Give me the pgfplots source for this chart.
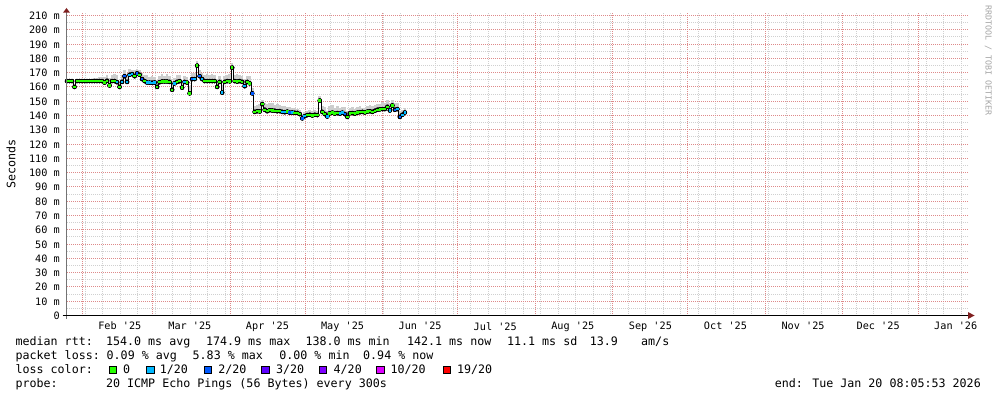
\documentclass[border=0pt]{standalone}
\usepackage{pgfplots}
\pgfplotsset{compat=1.18}
\usepackage{pgfplotstable}
\usepackage{fontspec}
\newfontfamily\rrd{DejaVu Sans Mono}
\newcommand\legf{\rrd\fontsize{11.66}{14}\selectfont}
\newcommand\axf{\rrd\fontsize{10.2}{12}\selectfont}
\newcommand\wmf{\rrd\fontsize{8.3}{10}\selectfont}
\definecolor{lossg}{HTML}{26FF00}
\definecolor{lossc}{HTML}{00B8FF}
\definecolor{lossb}{HTML}{0059FF}
\definecolor{loss3}{HTML}{5E00FF}
\definecolor{loss4}{HTML}{7E00FF}
\definecolor{loss10}{HTML}{DD00FF}
\definecolor{loss19}{HTML}{FF0000}
\definecolor{gridmin}{HTML}{D0D0D0}
\definecolor{gridmaj}{HTML}{DE8A8A}
\definecolor{arrowred}{HTML}{802020}
\definecolor{smokeA}{HTML}{CDCDCD}
\definecolor{smokeB}{HTML}{A4A4A4}

\pgfplotstableread{
d med up c
0 164.1 0 g
1 164.1 0 g
2 164.1 0 g
3 160.0 0 g
4 164.1 0 g
5 164.1 0 g
6 164.1 0 g
7 164.1 0 g
8 164.1 0 g
9 164.1 0 g
10 164.1 1 g
11 164.1 2 g
12 164.1 2 g
13 164.1 3 g
14 164.1 3 g
15 163.0 4 g
16 164.3 4 g
17 161.0 5 g
18 164.1 4 g
19 164.1 5 g
20 163.3 5 c
21 160.0 4 g
22 163.5 5 c
23 167.5 4 b
24 163.5 5 c
25 168.5 4 c
26 169.0 3 c
27 167.5 4 g
28 169.5 3 b
29 168.5 3 g
30 165.5 4 b
31 164.1 4 g
32 163.1 5 c
33 163.0 4 c
34 162.9 5 c
35 163.1 4 c
36 160.0 5 g
37 163.3 4 g
38 163.8 5 g
39 163.8 4 g
40 163.8 5 g
41 163.5 4 g
42 158.0 5 g
43 162.5 4 c
44 163.5 5 g
45 164.0 4 g
46 159.5 5 g
47 163.5 4 c
48 163.0 4 g
49 155.5 5 g
50 165.5 4 b
51 165.5 4 c
52 174.9 3 g
53 167.5 4 b
54 165.5 4 c
55 164.1 4 g
56 164.1 5 g
57 164.1 4 g
58 164.1 5 g
59 164.1 4 g
60 160.0 5 g
61 163.5 4 g
62 156.0 5 c
63 163.5 4 g
64 164.1 4 g
65 163.9 5 g
66 173.5 3 g
67 164.1 4 g
68 163.7 5 g
69 164.1 4 g
70 163.5 4 g
71 160.5 5 c
72 163.5 4 g
73 162.5 5 g
74 155.5 4 b
75 142.5 4 g
76 143.0 4 g
77 142.8 5 g
78 148.0 3 g
79 144.0 5 g
80 143.0 5 g
81 143.7 5 g
82 143.5 5 g
83 143.3 4 g
84 143.0 5 g
85 143.1 4 g
86 142.5 4 c
87 142.3 4 c
88 142.7 3 g
89 142.0 4 b
90 142.1 3 c
91 141.9 3 g
92 141.8 3 g
93 141.0 3 g
94 138.0 3 b
95 139.5 3 c
96 140.3 3 g
97 140.5 3 g
98 140.0 3 g
99 140.5 3 g
100 140.3 3 g
101 150.5 3 g
102 142.5 4 g
103 141.0 5 g
104 139.3 4 c
105 141.5 5 g
106 142.0 5 g
107 141.3 4 g
108 141.7 5 g
109 141.3 4 c
110 142.0 4 c
111 141.0 5 b
112 139.0 4 g
113 141.5 4 g
114 141.7 4 g
115 141.3 3 g
116 142.0 4 g
117 142.3 4 g
118 142.5 3 g
119 142.1 3 g
120 142.7 4 g
121 143.0 4 g
122 142.5 4 g
123 143.3 4 g
124 144.0 4 g
125 144.3 4 g
126 144.5 5 g
127 144.5 4 g
128 146.0 5 g
129 143.5 5 c
130 147.0 4 g
131 144.0 5 b
132 144.5 4 c
133 139.0 4 b
134 140.5 3 c
135 142.1 3 c
}\rtt

\begin{document}
\begin{tikzpicture}[x=1pt,y=1pt]
\useasboundingbox (0,0) rectangle (997,397);
\fill[white] (0,0) rectangle (997,397);
\begin{axis}[
  at={(67pt,81.5pt)}, anchor=south west,
  scale only axis, width=901pt, height=302pt,
  xmin=0, xmax=360, ymin=0, ymax=211.4,
  axis line style={draw=none},
  major tick length=0pt, minor tick length=0pt,
  xtick={6.193,34.162,65.327,95.294,126.060,156.027,187.192,217.958,247.924,279.090,309.856,340.222},
  xticklabels={},
  minor xtick={7.392,14.184,21.376,28.169,35.361,42.153,49.345,56.138,63.330,70.122,77.314,84.107,91.299,98.491,105.283,112.475,119.268,126.460,133.252,140.444,147.237,154.429,161.221,168.413,175.206,182.398,189.190,196.382,203.175,210.367,217.159,224.351,231.144,238.336,245.128,252.320,259.113,266.305,273.497,280.290,287.482,294.274,301.466,308.259,315.451,322.243,329.435,336.228,343.420,350.212,357.404},
  extra x ticks={21.1,49.1,80.1,110.1,141.1,171.1,202.1,233.1,263.1,294.1,324.1,355.1},
  extra x tick labels={Feb \textquotesingle 25,Mar \textquotesingle 25,Apr \textquotesingle 25,May \textquotesingle 25,Jun \textquotesingle 25,Jul \textquotesingle 25,Aug \textquotesingle 25,Sep \textquotesingle 25,Oct \textquotesingle 25,Nov \textquotesingle 25,Dec \textquotesingle 25,Jan \textquotesingle 26},
  extra x tick style={grid=none},
  xmajorgrids=true, xminorgrids=true,
  ymajorgrids=true, yminorgrids=true,
  ytick={0,9.8,20.3,30.1,39.9,49.7,60.2,70,79.8,90.3,100.1,109.9,119.7,130.2,140,149.8,160.3,170.1,179.9,189.7,200.2,210},
  yticklabels={0,10 m,20 m,30 m,40 m,50 m,60 m,70 m,80 m,90 m,100 m,110 m,120 m,130 m,140 m,150 m,160 m,170 m,180 m,190 m,200 m,210 m},
  minor ytick={4.9,14.7,25.2,35,44.8,55.3,65.1,74.9,84.7,95.2,105,114.8,125.3,135.1,144.9,154.7,165.2,175,184.8,195.3,205.1},
  major grid style={color=gridmaj, line width=1pt, dash pattern=on 1pt off 1pt},
  minor grid style={color=gridmin, line width=1pt, dash pattern=on 1pt off 1pt},
  every axis x grid/.append style={dash phase=0.5pt},
  yticklabel style={font=\axf, anchor=east, inner sep=0pt, xshift=-7pt},
  xticklabel style={font=\axf, anchor=north, inner sep=0pt, yshift=-6.5pt},
]
\addplot [only marks, mark=none, error bars/.cd, y dir=plus, y explicit, error mark=none,
  error bar style={line width=2.6pt, color=smokeA}]
  table [x=d, y=med, y error=up] {\rtt};
\addplot [only marks, mark=none, error bars/.cd, y dir=plus, y explicit, error mark=none,
  error bar style={line width=2.6pt, color=smokeB}]
  table [x=d, y=med, y error expr=\thisrow{up}*0.35] {\rtt};
\addplot [black, line width=0.7pt, const plot mark mid] table [x=d, y=med] {\rtt};
\addplot [scatter, only marks, scatter src=explicit symbolic, mark size=1.3pt,
  scatter/classes={
    g={mark=-, draw=lossg, line width=2.4pt},
    c={mark=-, draw=lossc, line width=2.4pt},
    b={mark=-, draw=lossb, line width=2.4pt}}]
  table [x=d, y=med, meta=c] {\rtt};
\end{axis}
% axes lines and arrows
\draw[color=black!55, line width=1pt] (66.5,78.5) -- (66.5,385);
\fill[arrowred] (63,384.3) -- (70,384.3) -- (66.5,389) -- cycle;
\draw[black, line width=1pt] (62.7,81.5) -- (968,81.5);
\fill[arrowred] (968,78) -- (968,85) -- (974.5,81.5) -- cycle;
% y label
\node[rotate=90, font=\legf, inner sep=0pt] at (11,233) {Seconds};
% watermark
\node[rotate=-90, anchor=west, font=\wmf, text=black!35, inner sep=0pt] at (988.3,392) {RRDTOOL / TOBI OETIKER};
\begin{scope}[every node/.style={anchor=base west, inner sep=0pt, font=\legf}]
% line 1
\node at (15.4,51.3) {median rtt:};
\node at (105.9,51.3) {154.0 ms avg};
\node at (205.9,51.3) {174.9 ms max};
\node at (305.3,51.3) {138.0 ms min};
\node at (406.9,51.3) {142.1 ms now};
\node at (506.9,51.3) {11.1 ms sd};
\node at (589.7,51.3) {13.9};
\node at (641.0,51.3) {am/s};
% line 2
\node at (15.4,37.5) {packet loss:};
\node at (106.5,37.5) {0.09 \% avg};
\node at (192.5,37.5) {5.83 \% max};
\node at (279.2,37.5) {0.00 \% min};
\node at (363.0,37.5) {0.94 \% now};
% line 3
\node at (15.4,23.7) {loss color:};
\node at (122.9,23.7) {0};
\node at (159.6,23.7) {1/20};
\node at (218.1,23.7) {2/20};
\node at (275.8,23.7) {3/20};
\node at (333.5,23.7) {4/20};
\node at (390.3,23.7) {10/20};
\node at (456.9,23.7) {19/20};
% line 4
\node at (15.4,9.7) {probe:};
\node at (105.9,9.7) {20 ICMP Echo Pings (56 Bytes) every 300s};
\node[anchor=base east] at (981,9.7) {end: Tue Jan 20 08:05:53 2026};
\end{scope}
\begin{scope}[line width=0.7pt, draw=black]
\filldraw[fill=lossg] (109,23.7) rectangle (116.3,31);
\filldraw[fill=lossc] (146.7,23.7) rectangle (154,31);
\filldraw[fill=lossb] (204,23.7) rectangle (211.3,31);
\filldraw[fill=loss3] (261.7,23.7) rectangle (269,31);
\filldraw[fill=loss4] (319.3,23.7) rectangle (326.6,31);
\filldraw[fill=loss10] (376.7,23.7) rectangle (384,31);
\filldraw[fill=loss19] (443.3,23.7) rectangle (450.6,31);
\end{scope}
\end{tikzpicture}
\end{document}
